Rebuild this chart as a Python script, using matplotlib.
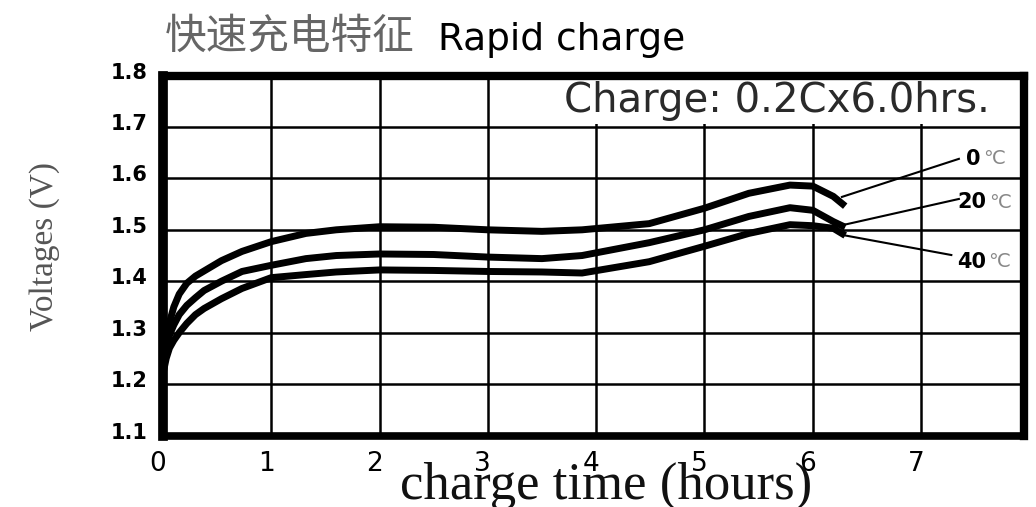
import matplotlib
matplotlib.use("Agg")
import matplotlib.pyplot as plt
import matplotlib.transforms as mtransforms
from matplotlib.patches import Rectangle

# ---- data ----
hours = [0.0, 0.03, 0.06, 0.1, 0.15, 0.22, 0.3, 0.38, 0.54, 0.73, 1.0, 1.32, 1.6,
         2.0, 2.5, 3.0, 3.5, 3.87, 4.49, 5.0, 5.41, 5.79, 6.0, 6.19, 6.3]
v_0c = [1.22, 1.29, 1.32, 1.35, 1.375, 1.396, 1.41, 1.42, 1.44, 1.458, 1.477, 1.493, 1.50,
        1.506, 1.505, 1.50, 1.497, 1.50, 1.512, 1.542, 1.571, 1.587, 1.585, 1.565, 1.546]
v_20c = [1.22, 1.27, 1.295, 1.315, 1.335, 1.353, 1.368, 1.382, 1.40, 1.419, 1.431, 1.444, 1.45,
         1.453, 1.452, 1.447, 1.444, 1.45, 1.475, 1.50, 1.526, 1.543, 1.538, 1.516, 1.505]
v_40c = [1.22, 1.25, 1.27, 1.285, 1.30, 1.318, 1.335, 1.347, 1.366, 1.386, 1.407, 1.413, 1.418,
         1.422, 1.421, 1.419, 1.418, 1.416, 1.438, 1.468, 1.493, 1.51, 1.508, 1.503, 1.489]

series_labels = ["0", "20", "40"]
leader_start = [(6.27, 1.564), (6.21, 1.506), (6.30, 1.489)]
leader_end = [(7.35, 1.638), (7.35, 1.560), (7.28, 1.451)]
label_pos = [(7.42, 1.638), (7.34, 1.554), (7.33, 1.4375)]
unit_pos = [(7.57, 1.638), (7.63, 1.554), (7.62, 1.4375)]

x_ticks = [0, 1, 2, 3, 4, 5, 6, 7]
y_ticks = [1.1, 1.2, 1.3, 1.4, 1.5, 1.6, 1.7, 1.8]
y_ticklabels = ["1.1", "1.2", "1.3", "1.4", "1.5", "1.6", "1.7", "1.8"]

title_cn = "快速充电特征"
title_en = "Rapid charge"
box_text = "Charge: 0.2Cx6.0hrs."
x_label = "charge time (hours)"
y_label = "Voltages (V)"
unit = "℃"

# ---- figure ----
fig = plt.figure(figsize=(10.36, 5.07), dpi=100)
ax = fig.add_axes([0.1573, 0.141, 0.831, 0.710])
ax.set_xlim(0, 7.95)
ax.set_ylim(1.1, 1.8)

ax.set_axisbelow(True)
ax.grid(True, color="black", linewidth=1.8)

for xs, ys in [(hours, v_0c), (hours, v_20c), (hours, v_40c)]:
    ax.plot(xs, ys, color="black", linewidth=5, solid_capstyle="butt", zorder=2)

# white box with charge condition
ax.add_patch(Rectangle((3.3, 1.705), 4.7, 0.1, facecolor="white", edgecolor="none", zorder=1.5))
ax.text(3.705, 1.729, box_text, fontsize=29, color="#2a2a2a", family="DejaVu Sans",
        va="baseline", ha="left", zorder=3)

# leaders and temperature labels
for (x0, y0), (x1, y1), (lx, ly), (ux, uy), lab in zip(leader_start, leader_end, label_pos, unit_pos, series_labels):
    ax.plot([x0, x1], [y0, y1], color="black", linewidth=1.5, zorder=2)
    ax.text(lx, ly, lab, fontsize=15, fontweight="bold", color="black", va="center", ha="left",
            family="DejaVu Sans", zorder=3)
    ax.text(ux, uy, unit, fontsize=14, color="#888888", va="center", ha="left",
            family=["DejaVu Sans", "Noto Sans CJK SC"], zorder=3)

# spines
for side, lw in [("left", 7), ("bottom", 5.5), ("top", 6), ("right", 6)]:
    ax.spines[side].set_linewidth(lw)
    ax.spines[side].set_color("black")
    ax.spines[side].set_zorder(5)

ax.set_xticks(x_ticks)
ax.set_xticklabels([str(t) for t in x_ticks])
ax.set_yticks(y_ticks)
ax.set_yticklabels(y_ticklabels)
ax.tick_params(axis="both", length=0)
ax.tick_params(axis="x", pad=11, labelsize=19)
ax.tick_params(axis="y", pad=11, labelsize=15)
for lbl in ax.get_yticklabels():
    lbl.set_fontweight("bold")
    lbl.set_transform(lbl.get_transform() + mtransforms.ScaledTranslation(0, 5 / 100, fig.dpi_scale_trans))
for lbl in ax.get_xticklabels():
    lbl.set_transform(lbl.get_transform() + mtransforms.ScaledTranslation(-5 / 100, 0, fig.dpi_scale_trans))

# titles and axis labels
fig.text(0.159, 0.927, title_cn, fontsize=30, color="#666666", family="Noto Sans CJK SC",
         va="center", ha="left")
fig.text(0.423, 0.901, title_en, fontsize=27, color="black", family="DejaVu Sans",
         va="baseline", ha="left")
fig.text(0.585, 0.016, x_label, fontsize=38, color="#111111", family="Liberation Serif",
         va="baseline", ha="center")
fig.text(0.0434, 0.513, y_label, fontsize=24, color="#555555", family="Liberation Serif",
         rotation=90, va="center", ha="center")

fig.savefig("out.png", dpi=100)
